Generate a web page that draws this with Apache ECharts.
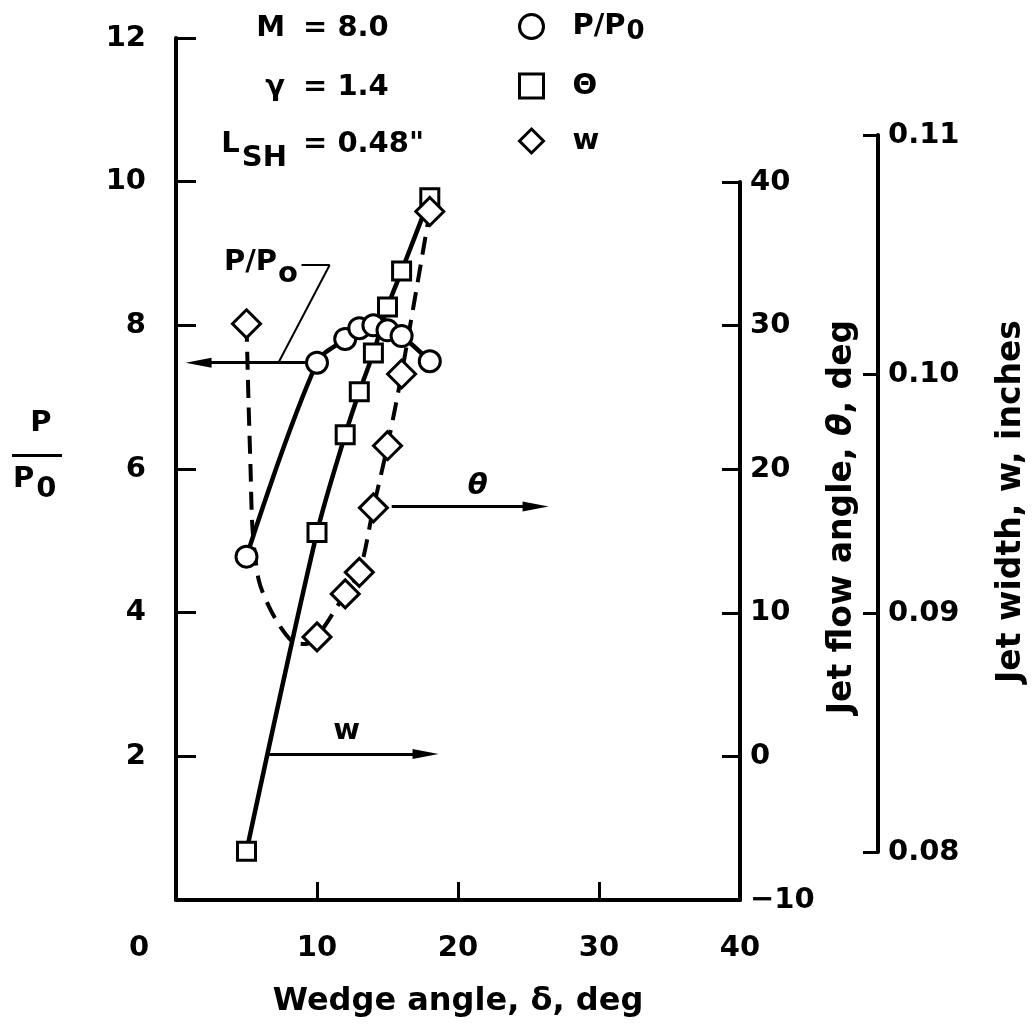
<!DOCTYPE html>
<html>
<head>
<meta charset="utf-8">
<title>Jet pressure, flow angle and width vs wedge angle</title>
<script src="https://cdn.jsdelivr.net/npm/echarts@6/dist/echarts.min.js"></script>
</head>
<body style="margin:0;padding:0;background:#ffffff;">
<div id="main" style="width:1036px;height:1033px;"></div>
<script type="text/javascript">
// ---- data ----
// pressure ratio P/P0 against wedge angle (deg)
var pDelta = [5, 10, 12, 13, 14, 15, 16, 18];
var pRatio = [4.78, 7.48, 7.81, 7.96, 8.0, 7.93, 7.85, 7.5];
// jet flow angle theta (deg)
var thDelta = [5, 10, 12, 13, 14, 15, 16, 18];
var thAngle = [-6.6, 15.6, 22.4, 25.4, 28.1, 31.3, 33.8, 38.9];
// jet width w (inches)
var wDelta = [5, 10, 12, 13, 14, 15, 16, 18];
var wWidth = [0.1021, 0.0890, 0.0908, 0.0917, 0.0944, 0.0970, 0.1000, 0.1068];
// points on the dashed w fairing between the first two diamonds
var wFairDelta = [5.14, 5.29, 5.43, 5.86, 6.57, 7.43, 8.29, 9.21];
var wFairWidth = [0.0989, 0.0960, 0.0935, 0.0914, 0.0903, 0.0894, 0.0888, 0.0887];

// axis ranges [min, max, interval]
var xRange = [0, 40, 10];
var pRange = [0, 12, 2];
var thRange = [-10, 40, 10];
var wRange = [0.08, 0.11, 0.01];

function pairs(xs, ys) {
    var out = [];
    for (var i = 0; i < xs.length; i++) out.push([xs[i], ys[i]]);
    return out;
}
var pPts = pairs(pDelta, pRatio);
var thPts = pairs(thDelta, thAngle);
var wPts = pairs(wDelta, wWidth);
var wCurve = wPts.concat(pairs(wFairDelta, wFairWidth)).sort(function (a, b) { return a[0] - b[0]; });

var FONT = 'DejaVu Sans';
function ts(size, extra) {
    var o = { color: '#000', fontFamily: FONT, fontWeight: 'bold', fontSize: size };
    for (var k in extra) o[k] = extra[k];
    return o;
}
var hollow = { color: '#fff', borderColor: '#000', borderWidth: 3, opacity: 1 };
var axisLine = { show: true, onZero: false, lineStyle: { color: '#000', width: 4 } };
var plainFont = 'bold 29px "DejaVu Sans"';

var chart = echarts.init(document.getElementById('main'), null, { renderer: 'canvas' });
var option = {
    backgroundColor: '#ffffff',
    animation: false,
    grid: [
        { left: 176, right: 296, top: 38, bottom: 133, outerBoundsMode: 'none' },
        { left: 176, right: 296, top: 182, bottom: 133, outerBoundsMode: 'none' },
        { left: 176, right: 296, top: 135, bottom: 181, outerBoundsMode: 'none' }
    ],
    legend: {
        orient: 'vertical', left: 513, top: 7,
        itemWidth: 24, itemHeight: 24, itemGap: 26,
        selectedMode: false,
        itemStyle: hollow,
        data: [{ name: 'P/P0', icon: 'circle' }, { name: 'Θ', icon: 'rect' }, { name: 'w', icon: 'diamond' }],
        formatter: function (n) { return n === 'P/P0' ? '{a|P/P}{s|0}' : '{a|' + n + '}'; },
        textStyle: ts(29, {
            rich: {
                a: ts(29, { padding: [0, 0, 0, 24] }),
                s: ts(26, { padding: [12, 0, 0, 1] })
            }
        })
    },
    xAxis: [
        {
            gridIndex: 0, type: 'value', min: xRange[0], max: xRange[1], interval: xRange[2],
            axisLine: axisLine,
            axisTick: { show: true, inside: true, length: 18, lineStyle: { color: '#000', width: 3 } },
            splitLine: { show: false },
            axisLabel: ts(29, {
                margin: 34,
                formatter: function (v) { return v === 0 ? '{z|0}' : String(v); },
                rich: { z: ts(29, { padding: [0, 74, 0, 0] }) }
            }),
            name: 'Wedge angle, δ, deg', nameLocation: 'middle', nameGap: 86,
            nameTextStyle: ts(32)
        },
        { gridIndex: 1, type: 'value', min: xRange[0], max: xRange[1], show: false },
        { gridIndex: 2, type: 'value', min: xRange[0], max: xRange[1], show: false }
    ],
    yAxis: [
        {
            gridIndex: 0, type: 'value', min: pRange[0], max: pRange[1], interval: pRange[2],
            axisLine: axisLine,
            axisTick: { show: true, inside: true, length: 20, lineStyle: { color: '#000', width: 3 } },
            splitLine: { show: false },
            axisLabel: ts(29, { margin: 30, formatter: function (v) { return v === 0 ? '' : String(v); } })
        },
        {
            gridIndex: 1, type: 'value', position: 'right', min: thRange[0], max: thRange[1], interval: thRange[2],
            axisLine: axisLine,
            axisTick: { show: true, inside: true, length: 18, lineStyle: { color: '#000', width: 3 } },
            splitLine: { show: false },
            axisLabel: ts(29, { margin: 10, formatter: function (v) { return v < 0 ? '\u2212' + (-v) : String(v); } }),
            name: 'Jet flow angle, {i|θ}, deg', nameLocation: 'middle', nameRotate: 90, nameGap: 71,
            nameTextStyle: ts(33, { padding: [0, 0, 0, 48], rich: { i: ts(33, { fontStyle: 'italic' }) } })
        },
        {
            gridIndex: 2, type: 'value', position: 'right', offset: 138,
            min: wRange[0], max: wRange[1], interval: wRange[2],
            axisLine: axisLine,
            axisTick: { show: true, inside: true, length: 15, lineStyle: { color: '#000', width: 3 } },
            splitLine: { show: false },
            axisLabel: ts(29, { margin: 10, formatter: function (v) { return v.toFixed(2); } }),
            name: 'Jet width, w, inches', nameLocation: 'middle', nameRotate: 90, nameGap: 117,
            nameTextStyle: ts(33, { padding: [0, 16, 0, 0] })
        }
    ],
    series: [
        {
            name: 'p-curve', type: 'line', xAxisIndex: 0, yAxisIndex: 0, data: pPts,
            smooth: 0.35, symbol: 'none', silent: true, z: 2,
            lineStyle: { color: '#000', width: 4.5 },
            markLine: {
                silent: true, animation: false, symbol: ['none', 'triangle'], symbolSize: [10, 26],
                label: { show: false },
                lineStyle: { color: '#000', width: 3, type: 'solid' },
                data: [
                    [{ coord: [9.57, 7.48] }, { coord: [1.6, 7.48] }],
                    [{ coord: [7.29, 7.49], symbol: 'none', lineStyle: { width: 2 } }, { coord: [10.9, 8.84], symbol: 'none' }],
                    [{ coord: [10.9, 8.84], symbol: 'none', lineStyle: { width: 2 } }, { coord: [8.9, 8.84], symbol: 'none' }]
                ]
            }
        },
        {
            name: 'P/P0', type: 'scatter', xAxisIndex: 0, yAxisIndex: 0, data: pPts,
            symbol: 'circle', symbolSize: 21, itemStyle: hollow, z: 6
        },
        {
            name: 'theta-curve', type: 'line', xAxisIndex: 1, yAxisIndex: 1, data: thPts,
            smooth: 0.3, symbol: 'none', silent: true, z: 2,
            lineStyle: { color: '#000', width: 4.5 },
            markLine: {
                silent: true, animation: false, symbol: ['none', 'triangle'], symbolSize: [10, 26],
                lineStyle: { color: '#000', width: 3, type: 'solid' },
                label: ts(29, { show: true, formatter: 'θ', position: 'insideMiddleTop', distance: 6, fontStyle: 'italic', offset: [14, 0] }),
                data: [[{ coord: [15.3, 17.4] }, { coord: [25.5, 17.4] }]]
            }
        },
        {
            name: 'Θ', type: 'scatter', xAxisIndex: 1, yAxisIndex: 1, data: thPts,
            symbol: 'rect', symbolSize: 18, itemStyle: hollow, z: 6
        },
        {
            name: 'w-curve', type: 'line', xAxisIndex: 2, yAxisIndex: 2, data: wCurve,
            smooth: 0.3, symbol: 'none', silent: true, z: 2,
            lineStyle: { color: '#000', width: 4, type: [18, 10] },
            markLine: {
                silent: true, animation: false, symbol: ['none', 'triangle'], symbolSize: [10, 26],
                lineStyle: { color: '#000', width: 3, type: 'solid' },
                label: ts(29, { show: true, formatter: 'w', position: 'insideMiddleTop', distance: 8 }),
                data: [[{ coord: [6.5, 0.0841] }, { coord: [17.7, 0.0841] }]]
            }
        },
        {
            name: 'w', type: 'scatter', xAxisIndex: 2, yAxisIndex: 2, data: wPts,
            symbol: 'diamond', symbolSize: 28, itemStyle: hollow, z: 6
        }
    ],
    graphic: [
        // flow conditions block
        { type: 'text', x: 285, y: 28, style: { text: 'M', align: 'right', verticalAlign: 'middle', fill: '#000', font: plainFont } },
        { type: 'text', x: 303, y: 28, style: { text: '= 8.0', align: 'left', verticalAlign: 'middle', fill: '#000', font: plainFont } },
        { type: 'text', x: 285, y: 87, style: { text: 'γ', align: 'right', verticalAlign: 'middle', fill: '#000', font: plainFont } },
        { type: 'text', x: 303, y: 87, style: { text: '= 1.4', align: 'left', verticalAlign: 'middle', fill: '#000', font: plainFont } },
        {
            type: 'text', x: 287, y: 144, style: {
                text: '{a|L}{s|SH}', align: 'right', verticalAlign: 'middle',
                rich: { a: ts(29), s: ts(29, { padding: [28, 0, 0, 2] }) }
            }
        },
        { type: 'text', x: 303, y: 144, style: { text: '= 0.48"', align: 'left', verticalAlign: 'middle', fill: '#000', font: plainFont } },
        // left axis title as a fraction
        { type: 'text', x: 41, y: 423, style: { text: 'P', align: 'center', verticalAlign: 'middle', fill: '#000', font: plainFont } },
        { type: 'rect', shape: { x: 12, y: 454, width: 50, height: 3 }, style: { fill: '#000' } },
        {
            type: 'text', x: 13, y: 479, style: {
                text: '{a|P}{s|0}', align: 'left', verticalAlign: 'middle',
                rich: { a: ts(29), s: ts(29, { padding: [20, 0, 0, 2] }) }
            }
        },
        // label of the P/P0 leader
        {
            type: 'text', x: 224, y: 262, style: {
                text: '{a|P/P}{s|o}', align: 'left', verticalAlign: 'middle',
                rich: { a: ts(29), s: ts(29, { padding: [24, 0, 0, 1] }) }
            }
        }
    ]
};
chart.setOption(option);
</script>
</body>
</html>
